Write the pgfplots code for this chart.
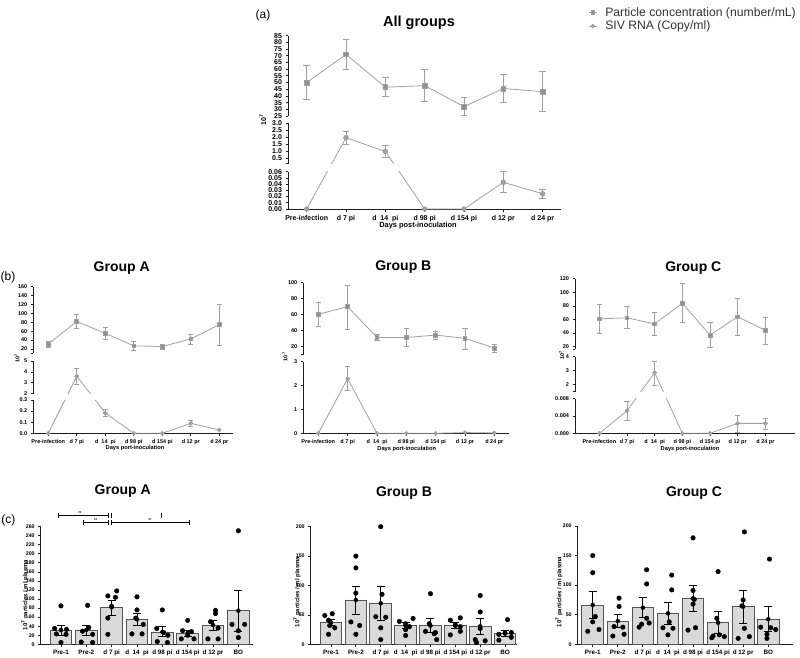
\documentclass[border=0pt]{standalone}
\usepackage{pgfplots}
\pgfplotsset{compat=1.18}
\usepackage{pgfplotstable}
\usepackage{fontspec}
\setmainfont{Liberation Sans}

\definecolor{lgray}{RGB}{160,160,160}
\definecolor{barfill}{RGB}{217,217,217}
\definecolor{baredge}{RGB}{85,85,85}
\definecolor{axcol}{RGB}{30,30,30}

\newcommand\fta{\fontsize{7}{7}\selectfont\bfseries}
\newcommand\ftb{\fontsize{5.5}{5.5}\selectfont\bfseries}
\newcommand\ftcx{\fontsize{6.3}{6.3}\selectfont\bfseries}
\newcommand\ftcy{\fontsize{5.3}{5.3}\selectfont\bfseries}

% ---------- (a) All groups ----------
\pgfplotstableread{
x y lo hi
0 50 37.5 62.5
1 71 59.5 82.5
2 46.5 39.5 53.8
3 47.7 35.8 59.5
4 32 25.3 38.5
5 45.5 35 56.2
6 43.2 28.2 58.2
}\aPart
\pgfplotstableread{
x y lo hi
0 0 0 0
1 1.97 1.52 2.40
2 0.99 0.57 1.40
3 0 0 0
4 0 0 0
5 0.043 0.027 0.060
6 0.0245 0.017 0.0315
}\aSiv
% ---------- (b) Group A ----------
\pgfplotstableread{
x y lo hi
0 31 25 37.5
1 82 66.5 98
2 55 42.5 68
3 27 17.5 38.5
4 25.5 20.5 30.5
5 42.5 31.5 53
6 74.5 29.5 120
}\bAPart
\pgfplotstableread{
x y lo hi
0 0 0 0
1 3.6 2.86 4.38
2 0.183 0.15 0.216
3 0 0 0
4 0 0 0
5 0.09 0.06 0.12
6 0.03 0.03 0.03
}\bASiv
% ---------- (b) Group B ----------
\pgfplotstableread{
x y lo hi
0 60.5 45.5 75.5
1 70 41.5 97.5
2 31.5 28 35.5
3 31.5 20.5 43
4 34.5 30 39
5 30.5 17.5 43.5
6 18.3 13.3 23
}\bBPart
\pgfplotstableread{
x y lo hi
0 0 0 0
1 2.29 1.79 2.82
2 0 0 0
3 0 0 0
4 0 0 0
5 0.03 0.03 0.03
6 0.015 0.015 0.015
}\bBSiv
% ---------- (b) Group C ----------
\pgfplotstableread{
x y lo hi
0 61 40.5 82.5
1 62.5 46.5 79.5
2 53.5 37 70.5
3 84 56 113
4 37 19 56
5 64 36.5 92
6 44 23 63.5
}\bCPart
\pgfplotstableread{
x y lo hi
0 0 0 0
1 0.0052 0.0031 0.0074
2 2.86 2.0 3.71
3 0 0 0
4 0 0 0
5 0.0023 0.0002 0.0042
6 0.0023 0.0009 0.0035
}\bCSiv
% ---------- (c) bars ----------
\pgfplotstableread{
x m lo hi
0 31.7 20.6 42.7
1 31.7 20.6 42.7
2 81.8 65 98
3 55.2 42 68.5
4 27.3 17 39
5 25 17.5 31.7
6 42.7 31.7 53.8
7 74.4 28 120
}\cA
\pgfplotstableread{
x y
0 85
-0.25 35
0.22 33
-0.18 23
0.2 22
0 4
1.05 86
1.1 37
0.85 29
1.25 22
0.8 5
1.25 4
2.2 118
1.85 107
2.15 104
2.0 84
1.85 58
1.85 22
3 105
3 76
2.95 58
3.25 44
2.8 23
3.2 23
4 76
3.78 35
4.05 26
4.22 20
3.8 6
4.2 4
5 53
4.8 30
5.15 28
5 20
4.75 12
5.25 12
6.1 75
6.1 68
5.9 50
6.2 36
5.8 12
6.2 12
7 251
6.75 44
7.25 44
7 30
7 15
}\cAd
\pgfplotstableread{
x m lo hi
0 36.8 31.7 42
1 75.4 51.6 99
2 69.7 41.4 98
3 31.7 26.6 36.8
4 31.7 20.4 43.6
5 31.7 26.6 36.8
6 30.6 17 44.8
7 18.7 13.6 23.8
}\cB
\pgfplotstableread{
x y
0.05 52
-0.25 49
-0.1 41
-0.05 32
0.15 28
-0.1 17
1 150
1 130
1 87
0.8 38
1.15 32
1 17
2 200
2.05 85
1.8 47
2.2 46
2 28
2 8
3.3 44
2.75 39
3 35
3.15 30
3 25
3 15
4 86
3.95 35
3.8 22
4.2 20
4.15 18
4.25 8
5.2 45
4.8 41
5 33
5.2 30
5.2 22
4.8 16
6 83
6 55
6 27
5.8 8
6.2 6
5.85 3
7.1 42
7.25 20
7 19
6.75 17
7.25 12
6.75 7
}\cBd
\pgfplotstableread{
x m lo hi
0 66.5 44 89
1 39.4 28.7 50.1
2 62 45 79.4
3 52.4 34.4 70.4
4 77.7 55.2 100.3
5 36.6 18.6 55.2
6 63.7 35.5 91.8
7 42.3 21.4 63.7
}\cC
\pgfplotstableread{
x y
0 150
0 121
0.1 47
0 38
0.25 25
-0.2 22
1.05 78
1.05 64
0.85 30
1.2 29
1.25 17
0.8 14
2.15 126
2.15 102
2.15 44
2.25 36
1.95 34
1.85 29
3.15 117
3.15 92
3.05 38
2.8 28
3.2 27
3 16
4 180
4 91
4.05 76
4 68
4.1 28
3.8 24
5 123
4.95 44
5.05 16
4.8 14
5.25 13
4.75 11
6.05 190
6 75
5.95 65
6.05 27
6.25 13
5.8 10
7.05 144
6.7 29
7.1 28
7.3 25
6.95 17
6.95 10
}\cCd

\pgfplotsset{
  psty/.style={lgray, line width=0.8pt, mark=square*, mark size=2.4pt, mark options={solid, fill=lgray!90!black}},
  ssty/.style={lgray, line width=0.8pt, mark=*, mark size=2.2pt, mark options={solid, fill=lgray}},
  esty/.style={error bars/error bar style={lgray, line width=0.9pt}, error bars/error mark options={rotate=90, lgray, line width=0.9pt, mark size=3.2pt}},
  lbase/.style={scale only axis, anchor=south west, axis y line*=left, tick align=outside,
    axis line style={line width=0.8pt, axcol}, tick style={line width=0.8pt, axcol},
    major tick length=2.5pt, clip=true, scaled y ticks=false,
    /pgf/number format/assume math mode=true},
  nox/.style={axis x line=none, xtick=\empty},
  withx/.style={axis x line*=bottom, xtick={0,...,6},
    xticklabels={Pre-infection,d 7 pi,d~~14~~pi,d 98 pi,d 154 pi,d 12 pr,d 24 pr}},
  prec/.style={yticklabel style={/pgf/number format/fixed, /pgf/number format/fixed zerofill, /pgf/number format/precision=#1}},
  bbase/.style={scale only axis, anchor=south west, axis y line*=left, axis x line*=bottom,
    tick align=outside, axis line style={line width=0.8pt, axcol}, tick style={line width=0.8pt, axcol},
    major tick length=2.5pt, ymin=0, clip=false, scaled y ticks=false,
    xtick={0,...,7}, xticklabels={Pre-1,Pre-2,d 7 pi,d~~14~~pi,d 98 pi,d 154 pi,d 12 pr,BO},
    x tick label style={font=\ftcx}, y tick label style={font=\ftcy},
    /pgf/number format/assume math mode=true},
  bsmall/.style={psty/.append style={mark size=1.9pt}, ssty/.append style={mark size=1.8pt},
    esty/.append style={error bars/error mark options={rotate=90, mark size=2.6pt}}, tick label style={font=\ftb}},
}

\newcommand\segplots[2]{%
  \addplot[psty, esty, forget plot, only marks, mark=none, restrict expr to domain={\thisrow{hi}-\thisrow{lo}}{0.0000001:100000},
    error bars/.cd, y dir=both, y explicit]
    table[x=x, y expr=tseg(\thisrow{y}), y error plus expr=tseg(\thisrow{hi})-tseg(\thisrow{y}), y error minus expr=tseg(\thisrow{y})-tseg(\thisrow{lo})] {#1};
  \addplot[ssty, esty, forget plot, only marks, mark=none, restrict expr to domain={\thisrow{hi}-\thisrow{lo}}{0.0000001:100000},
    error bars/.cd, y dir=both, y explicit]
    table[x=x, y expr=tseg(\thisrow{y}), y error plus expr=tseg(\thisrow{hi})-tseg(\thisrow{y}), y error minus expr=tseg(\thisrow{y})-tseg(\thisrow{lo})] {#2};
  \addplot[psty] table[x=x, y expr=tseg(\thisrow{y})] {#1};
  \addplot[ssty] table[x=x, y expr=tseg(\thisrow{y})] {#2};
}

\newcommand\barplots[2]{%
  \addplot[ybar, bar width=21.7pt, fill=barfill, draw=baredge, line width=0.9pt] table[x=x, y=m] {#1};
  \addplot[only marks, mark=none, error bars/.cd, y dir=both, y explicit,
    error bar style={black, line width=0.8pt}, error mark options={rotate=90, black, line width=0.8pt, mark size=4pt}]
    table[x=x, y=m, y error plus expr=\thisrow{hi}-\thisrow{m}, y error minus expr=\thisrow{m}-\thisrow{lo}] {#1};
  \addplot[only marks, mark=*, mark size=2.3pt, black] table[x=x, y=y] {#2};
}

\begin{document}
\begin{tikzpicture}[declare function={
  dpall(\v)=ifthenelse(\v<0.08, \v*621.67, ifthenelse(\v<10, 45.1+(\v-0.1)*14.0, 93+(\v-25)*1.3383));
  dpgra(\v)=ifthenelse(\v<1, \v*111, ifthenelse(\v<8, 39.6+(\v-2)*10.9, 79.9+(\v-10)*0.4447));
  dpgrb(\v)=ifthenelse(\v<5, \v*23.87, 78.6+(\v-10)*0.8);
  dpgrc(\v)=ifthenelse(\v<0.1, \v*4325, ifthenelse(\v<10, 41.6+(\v-1.5)*14, 84+(\v-16)*0.677));
}]
\useasboundingbox (0pt,0pt) rectangle (800pt,657pt);

% ================= (a) =================
\begin{axis}[lbase, withx, at={(288pt,448pt)}, width=273pt, height=37.3pt,
  xmin=-0.475, xmax=6.466, ymin=0, ymax=0.06,
  ytick={0,0.01,0.02,0.03,0.04,0.05,0.06}, prec=2,
  tick label style={font=\fta},
  declare function={tseg(\v)=dpall(\v)/621.67;}]
\segplots{\aPart}{\aSiv}
\end{axis}
\begin{axis}[lbase, nox, at={(288pt,493.1pt)}, width=273pt, height=40.6pt,
  xmin=-0.475, xmax=6.466, ymin=0.1, ymax=3,
  ytick={0.5,1,1.5,2,2.5,3}, extra y ticks={0.1}, extra y tick labels={}, prec=1,
  tick label style={font=\fta},
  declare function={tseg(\v)=0.1+(dpall(\v)-45.1)/14.0;}]
\segplots{\aPart}{\aSiv}
\end{axis}
\begin{axis}[lbase, nox, at={(288pt,541pt)}, width=273pt, height=80.3pt,
  xmin=-0.475, xmax=6.466, ymin=25, ymax=85,
  ytick={25,30,...,85},
  tick label style={font=\fta},
  declare function={tseg(\v)=25+(dpall(\v)-93)/1.3383;},
  legend entries={Particle concentration (number/mL), SIV RNA (Copy/ml)},
  legend cell align=left,
  legend style={at={(1.10,1.37)}, anchor=north west, draw=none, fill=none,
    font=\fontsize{12.2}{13}\selectfont, text=black!80, inner sep=0pt, row sep=1.5pt,
    nodes={inner sep=1pt}, /tikz/every odd column/.append style={column sep=7pt}},
  legend image code/.code={\draw[mark repeat=2, mark phase=2, #1, mark size=1.8pt] plot coordinates {(-4pt,0pt) (0pt,0pt) (4pt,0pt)};}]
\segplots{\aPart}{\aSiv}
\end{axis}

% ================= (b) Group A =================
\begin{axis}[lbase, withx, bsmall, at={(33.3pt,223.7pt)}, width=199.7pt, height=33.3pt,
  xmin=-0.526, xmax=6.48, ymin=0, ymax=0.3,
  ytick={0,0.1,0.2,0.3}, prec=1,
  declare function={tseg(\v)=dpgra(\v)/111;}]
\segplots{\bAPart}{\bASiv}
\end{axis}
\begin{axis}[lbase, nox, bsmall, at={(33.3pt,263.3pt)}, width=199.7pt, height=32.7pt,
  xmin=-0.526, xmax=6.48, ymin=2, ymax=5,
  ytick={2,3,4,5},
  declare function={tseg(\v)=2+(dpgra(\v)-39.6)/10.9;}]
\segplots{\bAPart}{\bASiv}
\end{axis}
\begin{axis}[lbase, nox, bsmall, at={(33.3pt,303.6pt)}, width=199.7pt, height=66.7pt,
  xmin=-0.526, xmax=6.48, ymin=10, ymax=160,
  ytick={20,40,...,160}, extra y ticks={10}, extra y tick labels={},
  declare function={tseg(\v)=10+(dpgra(\v)-79.9)/0.4447;}]
\segplots{\bAPart}{\bASiv}
\end{axis}

% ================= (b) Group B =================
\begin{axis}[lbase, withx, bsmall, at={(303.3pt,223.7pt)}, width=205.7pt, height=71.6pt,
  xmin=-0.511, xmax=6.50, ymin=0, ymax=3,
  ytick={0,1,2,3},
  declare function={tseg(\v)=dpgrb(\v)/23.87;}]
\segplots{\bBPart}{\bBSiv}
\end{axis}
\begin{axis}[lbase, nox, bsmall, at={(303.3pt,302.3pt)}, width=205.7pt, height=72pt,
  xmin=-0.511, xmax=6.50, ymin=10, ymax=100,
  ytick={20,40,...,100}, extra y ticks={10}, extra y tick labels={},
  declare function={tseg(\v)=10+(dpgrb(\v)-78.6)/0.8;}]
\segplots{\bBPart}{\bBSiv}
\end{axis}

% ================= (b) Group C =================
\begin{axis}[lbase, withx, bsmall, at={(575pt,223.7pt)}, width=220pt, height=34.6pt,
  xmin=-0.878, xmax=7.07, ymin=0, ymax=0.008,
  ytick={0,0.004,0.008}, prec=3,
  declare function={tseg(\v)=dpgrc(\v)/4325;}]
\segplots{\bCPart}{\bCSiv}
\end{axis}
\begin{axis}[lbase, nox, bsmall, at={(575pt,265.3pt)}, width=220pt, height=35pt,
  xmin=-0.878, xmax=7.07, ymin=1.5, ymax=4,
  ytick={2,3,4}, extra y ticks={1.5}, extra y tick labels={},
  declare function={tseg(\v)=1.5+(dpgrc(\v)-41.6)/14;}]
\segplots{\bCPart}{\bCSiv}
\end{axis}
\begin{axis}[lbase, nox, bsmall, at={(575pt,307.7pt)}, width=220pt, height=70.4pt,
  xmin=-0.878, xmax=7.07, ymin=16, ymax=120,
  ytick={20,40,...,120}, extra y ticks={16}, extra y tick labels={},
  declare function={tseg(\v)=16+(dpgrc(\v)-84)/0.677;}]
\segplots{\bCPart}{\bCSiv}
\end{axis}

% ================= (c) bars =================
\begin{axis}[bbase, at={(40.7pt,12.7pt)}, width=212.6pt, height=117.6pt,
  xmin=-0.80, xmax=7.59, ymax=260, ytick={0,20,...,260}]
\barplots{\cA}{\cAd}
\draw[line width=0.7pt] (axis cs:-0.107,285.6) -- (axis cs:1.867,285.6);
\draw[line width=0.7pt] (axis cs:-0.107,280) -- (axis cs:-0.107,291);
\draw[line width=0.7pt] (axis cs:1.867,280) -- (axis cs:1.867,291);
\draw[line width=0.7pt] (axis cs:0.88,268.6) -- (axis cs:1.867,268.6);
\draw[line width=0.7pt] (axis cs:0.88,263) -- (axis cs:0.88,274);
\draw[line width=0.7pt] (axis cs:1.867,263) -- (axis cs:1.867,274);
\draw[line width=0.7pt] (axis cs:2.0,268.6) -- (axis cs:5.065,268.6);
\draw[line width=0.7pt] (axis cs:2.0,263) -- (axis cs:2.0,274);
\draw[line width=0.7pt] (axis cs:5.065,263) -- (axis cs:5.065,274);
\draw[line width=0.7pt] (axis cs:2.0,280) -- (axis cs:2.0,291);
\draw[line width=0.7pt] (axis cs:3.975,280) -- (axis cs:3.975,291);
\node[font=\fontsize{4}{4}\selectfont\bfseries, anchor=south, inner sep=0.5pt] at (axis cs:0.75,286.5) {**};
\node[font=\fontsize{4}{4}\selectfont\bfseries, anchor=south, inner sep=0.5pt] at (axis cs:1.37,269.5) {**};
\node[font=\fontsize{4}{4}\selectfont\bfseries, anchor=south, inner sep=0.5pt] at (axis cs:3.51,269.5) {**};
\end{axis}
\begin{axis}[bbase, at={(310.7pt,12.7pt)}, width=206.3pt, height=117.6pt,
  xmin=-0.817, xmax=7.48, ymax=200, ytick={0,50,...,200}]
\barplots{\cB}{\cBd}
\end{axis}
\begin{axis}[bbase, at={(577.7pt,12.7pt)}, width=215.6pt, height=118.3pt,
  xmin=-0.6, xmax=8.0, ymax=200, ytick={0,50,...,200}]
\barplots{\cC}{\cCd}
\end{axis}

% ================= texts =================
\node[font=\fontsize{12}{12}\selectfont] at (263pt,642pt) {(a)};
\node[font=\fontsize{14.5}{14.5}\selectfont\bfseries] at (419pt,634pt) {All groups};
\node[font=\fontsize{7}{7}\selectfont\bfseries, rotate=90] at (263pt,537pt) {10\textsuperscript{7}};
\node[font=\fontsize{7.4}{7.4}\selectfont\bfseries] at (418pt,431pt) {Days post-inoculation};

\node[font=\fontsize{12}{12}\selectfont] at (8pt,380pt) {(b)};
\node[font=\fontsize{14}{14}\selectfont\bfseries] at (121.7pt,388.7pt) {Group A};
\node[font=\fontsize{14}{14}\selectfont\bfseries] at (403.3pt,389.7pt) {Group B};
\node[font=\fontsize{14}{14}\selectfont\bfseries] at (693.3pt,388.7pt) {Group C};
\node[font=\fontsize{5.5}{5.5}\selectfont\bfseries, rotate=90] at (17pt,299pt) {10\textsuperscript{7}};
\node[font=\fontsize{5.5}{5.5}\selectfont\bfseries, rotate=90] at (285pt,300.3pt) {10\textsuperscript{7}};
\node[font=\fontsize{5.5}{5.5}\selectfont\bfseries, rotate=90] at (561.7pt,302pt) {10\textsuperscript{7}};
\node[font=\fontsize{5.7}{5.7}\selectfont\bfseries] at (135pt,208.7pt) {Days port-inoculation};
\node[font=\fontsize{5.7}{5.7}\selectfont\bfseries] at (406.7pt,207.7pt) {Days port-inoculation};
\node[font=\fontsize{5.7}{5.7}\selectfont\bfseries] at (690pt,207.7pt) {Days port-inoculation};

\node[font=\fontsize{12}{12}\selectfont] at (8.3pt,137pt) {(c)};
\node[font=\fontsize{14}{14}\selectfont\bfseries] at (122.7pt,166.3pt) {Group A};
\node[font=\fontsize{14}{14}\selectfont\bfseries] at (404pt,164.3pt) {Group B};
\node[font=\fontsize{14}{14}\selectfont\bfseries] at (694pt,164.3pt) {Group C};
\node[font=\fontsize{6}{6}\selectfont\bfseries, rotate=90] at (25pt,62pt) {10\textsuperscript{7} particles / ml plasma};
\node[font=\fontsize{6}{6}\selectfont\bfseries, rotate=90] at (297pt,65pt) {10\textsuperscript{7} particles / ml plasma};
\node[font=\fontsize{6}{6}\selectfont\bfseries, rotate=90] at (559pt,65pt) {10\textsuperscript{7} particles / ml plasma};
\end{tikzpicture}
\end{document}
